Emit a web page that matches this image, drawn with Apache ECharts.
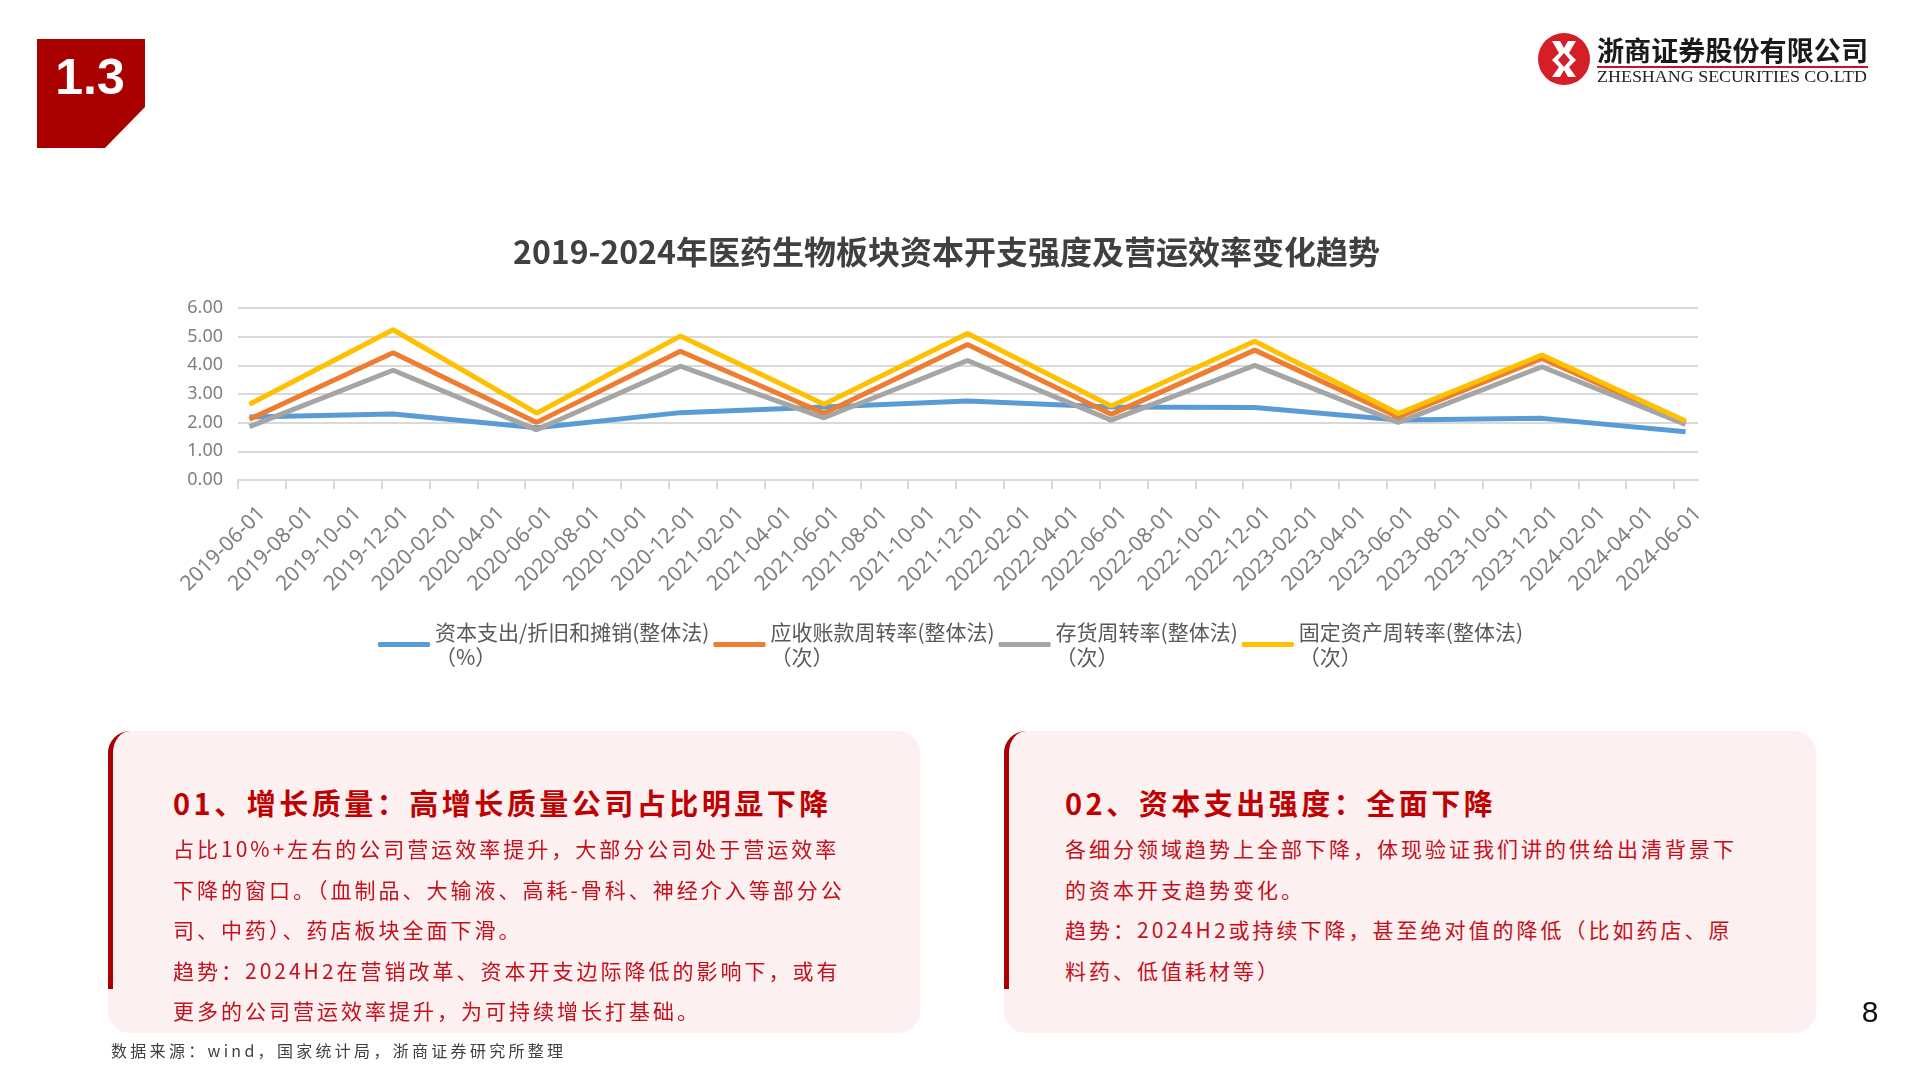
<!DOCTYPE html>
<html>
<head>
<meta charset="utf-8">
<script src="https://cdn.jsdelivr.net/npm/echarts@6/dist/echarts.min.js"></script>
<style>
  html, body { margin: 0; padding: 0; width: 1920px; height: 1080px; overflow: hidden; background: #ffffff; }
  #chart { position: absolute; left: 0; top: 0; width: 1920px; height: 1080px; }
  .overlay { position: absolute; pointer-events: none; }
  #secbox { left: 37px; top: 39px; width: 108px; height: 109px; background: #a90000;
    clip-path: polygon(0 0, 108px 0, 108px 68px, 68px 109px, 0 109px); }
  #secbox span { position: absolute; left: 0; width: 106px; top: 12px; text-align: center;
    font-family: 'Liberation Sans', Arial, sans-serif; font-weight: bold; font-size: 50px; color: #fff; line-height: 52px; }
  .panel { top: 731px; width: 812px; height: 302px; background: #fcf0f0; border-radius: 22px; }
  .panel .bar { position: absolute; left: 0; top: 0; width: 40px; height: 258px; border-left: 5px solid #a80000;
    border-top-left-radius: 22px; box-sizing: border-box; }
  .panel .head { position: absolute; white-space: nowrap; font-family: 'Noto Sans CJK SC', sans-serif; font-weight: bold;
    font-size: 29px; letter-spacing: 3.5px; color: #c00000; line-height: 40px; top: 51px; }
  .panel .body { position: absolute; white-space: nowrap; font-family: 'Noto Sans CJK SC', sans-serif; font-weight: normal;
    font-size: 21px; letter-spacing: 3px; color: #c4101c; line-height: 40.5px; top: 97px; }
  #p1 { left: 108px; }
  #p2 { left: 1004px; }
  #p1 .head, #p1 .body { left: 65px; }
  #p2 .head, #p2 .body { left: 61px; }
  #foot { left: 111px; top: 1038px; font-family: 'Noto Sans CJK SC', sans-serif; font-size: 16px; letter-spacing: 3.3px;
    color: #404040; line-height: 24px; white-space: nowrap; }
  #pnum { left: 1855px; top: 994px; width: 30px; text-align: center; font-family: 'Liberation Sans Narrow', 'Liberation Sans', sans-serif;
    font-size: 30px; color: #111; line-height: 36px; }
  #logo { left: 1530px; top: 25px; }
</style>
</head>
<body>
<div id="chart"></div>

<div id="secbox" class="overlay"><span>1.3</span></div>

<svg id="logo" class="overlay" width="370" height="75" viewBox="1530 25 370 75">
  <circle cx="1564" cy="59" r="26" fill="#d41f26"/>
  <path d="M1552 41 L1560 41 L1564 48 L1568 41 L1576 41 L1569 53 L1576 60 L1569 67 L1576 77 L1568 77 L1564 70 L1560 77 L1552 77 L1559 67 L1552 60 L1559 53 Z M1564 53 L1558 60 L1564 67 L1570 60 Z" fill="#ffffff" fill-rule="evenodd"/>
  <text x="1597" y="61" font-family="Noto Sans CJK SC, sans-serif" font-weight="bold" font-size="27" fill="#1a1a1a" textLength="271" lengthAdjust="spacingAndGlyphs">浙商证券股份有限公司</text>
  <line x1="1597" y1="67" x2="1868" y2="67" stroke="#c8102e" stroke-width="2"/>
  <text x="1597" y="82" font-family="Liberation Serif, serif" font-size="17" fill="#222" textLength="270" lengthAdjust="spacingAndGlyphs">ZHESHANG SECURITIES CO.LTD</text>
</svg>

<div id="p1" class="panel overlay">
  <div class="bar"></div>
  <div class="head">01、增长质量：高增长质量公司占比明显下降</div>
  <div class="body">占比10%+左右的公司营运效率提升，大部分公司处于营运效率<br>下降的窗口。（血制品、大输液、高耗-骨科、神经介入等部分公<br>司、中药）、药店板块全面下滑。<br>趋势：2024H2在营销改革、资本开支边际降低的影响下，或有<br>更多的公司营运效率提升，为可持续增长打基础。</div>
</div>

<div id="p2" class="panel overlay">
  <div class="bar"></div>
  <div class="head">02、资本支出强度：全面下降</div>
  <div class="body">各细分领域趋势上全部下降，体现验证我们讲的供给出清背景下<br>的资本开支趋势变化。<br>趋势：2024H2或持续下降，甚至绝对值的降低（比如药店、原<br>料药、低值耗材等）</div>
</div>

<div id="foot" class="overlay">数据来源：wind，国家统计局，浙商证券研究所整理</div>
<div id="pnum" class="overlay">8</div>

<script>
// ---- Data ----
const chartTitle = '2019-2024年医药生物板块资本开支强度及营运效率变化趋势';

// axis categories (one band per two months)
const categories = [
  '2019-06-01','2019-08-01','2019-10-01','2019-12-01',
  '2020-02-01','2020-04-01','2020-06-01','2020-08-01','2020-10-01','2020-12-01',
  '2021-02-01','2021-04-01','2021-06-01','2021-08-01','2021-10-01','2021-12-01',
  '2022-02-01','2022-04-01','2022-06-01','2022-08-01','2022-10-01','2022-12-01',
  '2023-02-01','2023-04-01','2023-06-01','2023-08-01','2023-10-01','2023-12-01',
  '2024-02-01','2024-04-01','2024-06-01'
];

// semi-annual reporting dates that carry values
const reportDates = [
  '2019-06-01','2019-12-01','2020-06-01','2020-12-01','2021-06-01','2021-12-01',
  '2022-06-01','2022-12-01','2023-06-01','2023-12-01','2024-06-01'
];

const capexToDA        = [2.20, 2.30, 1.82, 2.35, 2.55, 2.76, 2.55, 2.53, 2.09, 2.15, 1.68];
const receivableTurn   = [2.12, 4.44, 2.01, 4.49, 2.33, 4.73, 2.29, 4.53, 2.20, 4.24, 2.01];
const inventoryTurn    = [1.86, 3.83, 1.75, 3.97, 2.17, 4.17, 2.09, 4.00, 2.01, 3.95, 1.94];
const fixedAssetTurn   = [2.64, 5.24, 2.33, 5.02, 2.64, 5.11, 2.58, 4.84, 2.32, 4.36, 2.06];

const seriesNames = [
  '资本支出/折旧和摊销(整体法)\n（%）',
  '应收账款周转率(整体法)\n（次）',
  '存货周转率(整体法)\n（次）',
  '固定资产周转率(整体法)\n（次）'
];
const seriesColors = ['#5b9bd5', '#ed7d31', '#a5a5a5', '#ffc000'];
const seriesValues = [capexToDA, receivableTurn, inventoryTurn, fixedAssetTurn];

const yTicks = [0, 1, 2, 3, 4, 5, 6];

// ---- Date-axis geometry (Excel style: a date sits a little inside its band) ----
const bandStart = -0.24;                                   // axis begins slightly before the first date
const bandEnd = bandStart + (categories.length - 1) + 0.5; // ends at the centre of the last band
const tickValues = categories.map((c, k) => bandStart + k);
const labelValues = categories.map((c, k) => bandStart + k + 0.5);

// ---- Chart ----
const chart = echarts.init(document.getElementById('chart'), null, { renderer: 'canvas', devicePixelRatio: 1 });

const option = {
  animation: false,
  backgroundColor: 'transparent',
  title: {
    text: chartTitle,
    left: 513,
    top: 236,
    padding: 0,
    textStyle: { fontFamily: 'Noto Sans CJK SC', fontWeight: 'bold', fontSize: 32, color: '#404040' }
  },
  legend: {
    data: seriesNames,
    left: 373,
    top: 602,
    icon: 'roundRect',
    itemWidth: 52,
    itemHeight: 5,
    itemGap: 4,
    textStyle: { fontFamily: 'Noto Sans CJK SC', fontSize: 21, color: '#595959', lineHeight: 25, padding: [25, 0, 0, 0] }
  },
  grid: { left: 238, right: 222, top: 308, bottom: 600, containLabel: false },
  xAxis: {
    type: 'value',
    min: bandStart,
    max: bandEnd,
    axisLine: { show: true, onZero: false, lineStyle: { color: '#d9d9d9', width: 2 } },
    axisTick: { show: true, length: 9, customValues: tickValues, lineStyle: { color: '#d9d9d9', width: 2 } },
    axisLabel: {
      show: true, rotate: 45, margin: 30, color: '#7f7f7f', fontSize: 21, fontFamily: 'Noto Sans',
      customValues: labelValues,
      formatter: v => categories[Math.round(v - bandStart - 0.5)] || ''
    },
    splitLine: { show: false }
  },
  yAxis: {
    type: 'value',
    min: yTicks[0],
    max: yTicks[yTicks.length - 1],
    interval: 1,
    axisLine: { show: false, onZero: false },
    axisTick: { show: false },
    axisLabel: { formatter: v => v.toFixed(2), color: '#7f7f7f', fontSize: 18, fontFamily: 'Noto Sans', margin: 15 },
    splitLine: { lineStyle: { color: '#d9d9d9', width: 2 } }
  },
  series: seriesNames.map((name, s) => ({
    name: name,
    type: 'line',
    symbol: 'none',
    smooth: false,
    color: seriesColors[s],
    lineStyle: { width: 5, color: seriesColors[s] },
    data: reportDates.map((d, i) => [categories.indexOf(d), seriesValues[s][i]])
  }))
};

chart.setOption(option);
</script>
</body>
</html>
